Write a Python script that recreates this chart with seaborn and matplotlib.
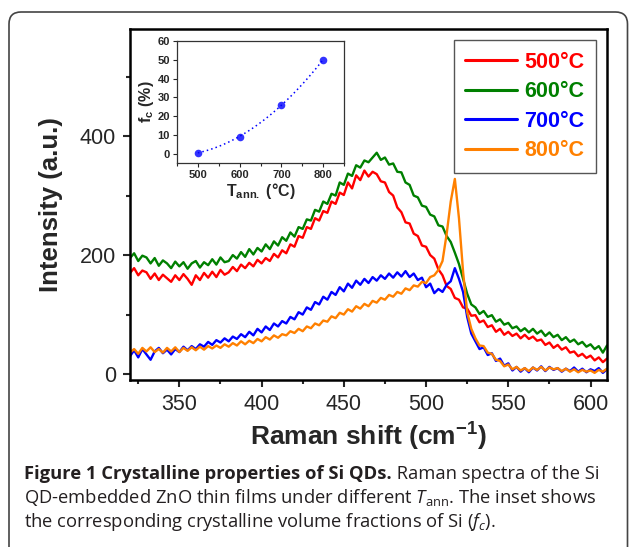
import numpy as np
import pandas as pd
import seaborn as sns
import matplotlib
matplotlib.use('Agg')
import matplotlib.pyplot as plt
from matplotlib.ticker import MultipleLocator
from matplotlib.patches import FancyBboxPatch
from matplotlib.transforms import IdentityTransform
from matplotlib.offsetbox import TextArea, HPacker, AnchoredOffsetbox

# Raman shift grid (cm-1), one reading every 2.5
shift = np.arange(320, 610.1, 2.5)

i_500 = [170, 178, 166, 174, 171, 160, 169, 158, 167, 161, 155, 166,
         158, 168, 160, 150, 166, 158, 170, 162, 172, 163, 175, 167,
         171, 180, 173, 184, 178, 187, 181, 192, 186, 195, 190, 202,
         196, 208, 203, 218, 214, 232, 229, 247, 244, 262, 258, 274,
         271, 290, 286, 305, 301, 322, 312, 334, 326, 342, 332, 340,
         336, 324, 322, 306, 300, 280, 272, 255, 253, 236, 232, 216,
         214, 200, 194, 176, 166, 148, 143, 128, 125, 112, 110, 98,
         99, 87, 90, 79, 82, 71, 76, 66, 71, 64, 68, 60,
         66, 59, 63, 56, 58, 49, 53, 44, 49, 41, 45, 36,
         38, 30, 34, 27, 31, 23, 28, 20, 26]

i_600 = [195, 203, 190, 199, 196, 186, 195, 182, 191, 186, 178, 189,
         181, 188, 177, 186, 190, 179, 188, 183, 193, 184, 196, 188,
         190, 200, 194, 205, 197, 210, 201, 212, 206, 218, 210, 223,
         216, 230, 224, 238, 231, 247, 244, 260, 258, 276, 273, 290,
         286, 303, 300, 322, 318, 337, 333, 351, 347, 359, 356, 364,
         372, 360, 364, 352, 354, 340, 339, 322, 318, 300, 297, 283,
         281, 268, 265, 250, 248, 232, 222, 204, 185, 160, 135, 117,
         112, 101, 106, 96, 99, 88, 92, 83, 86, 77, 80, 72,
         77, 70, 76, 68, 73, 64, 70, 62, 66, 57, 62, 54,
         58, 50, 54, 46, 50, 42, 47, 36, 48]

i_700 = [30, 40, 28, 42, 33, 24, 38, 44, 35, 41, 33, 42,
         37, 46, 40, 47, 42, 50, 46, 54, 49, 57, 53, 60,
         55, 63, 59, 67, 62, 71, 65, 76, 70, 80, 74, 85,
         80, 89, 85, 96, 92, 104, 100, 112, 108, 121, 117, 130,
         125, 138, 133, 146, 139, 152, 145, 157, 150, 160, 153, 163,
         157, 166, 160, 169, 162, 171, 164, 173, 163, 169, 158, 162,
         146, 152, 136, 143, 138, 150, 156, 178, 160, 138, 96, 68,
         55, 42, 45, 32, 35, 22, 26, 14, 18, 6, 12, 4,
         10, 3, 11, 6, 13, 5, 12, 7, 10, 4, 9, 5,
         11, 4, 9, 3, 8, 5, 10, 2, 8]

i_800 = [36, 42, 34, 44, 38, 45, 37, 42, 36, 44, 38, 45,
         37, 44, 39, 45, 40, 46, 41, 47, 43, 48, 44, 50,
         46, 52, 48, 55, 50, 56, 52, 59, 55, 62, 58, 65,
         61, 67, 65, 72, 69, 76, 72, 80, 77, 85, 82, 90,
         88, 97, 94, 103, 100, 109, 105, 114, 110, 118, 114, 123,
         120, 128, 125, 133, 130, 138, 135, 144, 141, 149, 147, 155,
         153, 163, 166, 175, 190, 235, 290, 328, 262, 172, 104, 76,
         60, 48, 47, 36, 34, 24, 22, 13, 16, 8, 12, 6,
         10, 5, 11, 7, 12, 6, 11, 8, 10, 5, 9, 4,
         8, 3, 7, 4, 6, 2, 7, 4, 9]

temps = ['500°C', '600°C', '700°C', '800°C']
colors = ['#ff0000', '#008000', '#0000ff', '#ff8000']

# inset: crystalline volume fraction
t_ann = [500, 600, 700, 800]
f_c = [0.5, 9, 26, 50]

sns.set_style('ticks')
plt.rcParams['font.family'] = ['Liberation Sans', 'DejaVu Sans']
plt.rcParams['mathtext.fontset'] = 'custom'
plt.rcParams['mathtext.bf'] = 'Liberation Sans:bold'
plt.rcParams['mathtext.rm'] = 'Open Sans'
plt.rcParams['mathtext.it'] = 'Open Sans:italic'

frames = []
for name, vals in zip(temps, [i_500, i_600, i_700, i_800]):
  frames.append(pd.DataFrame({'shift': shift, 'intensity': vals, 'T': name}))
data = pd.concat(frames, ignore_index=True)

fig = plt.figure(figsize=(6.29, 5.47), dpi=100)
ax = fig.add_axes([0.2067, 0.3053, 0.7583, 0.6417])

sns.lineplot(data=data, x='shift', y='intensity', hue='T',
             palette=dict(zip(temps, colors)), estimator=None, sort=False,
             lw=1.7, ax=ax)

ax.set_xlim(320, 610)
ax.set_ylim(-10, 580)
ax.set_xticks(range(350, 601, 50))
ax.xaxis.set_minor_locator(MultipleLocator(25))
ax.set_yticks([0, 200, 400])
ax.yaxis.set_minor_locator(MultipleLocator(100))
ax.tick_params(which='major', direction='out', length=5, width=1.5,
               labelsize=15.5, pad=5)
ax.tick_params(which='minor', direction='out', length=3, width=1.5)
for sp in ax.spines.values():
  sp.set_linewidth(1.8)
  sp.set_color('black')

ax.set_xlabel(r'Raman shift (cm$^{\mathbf{-1}}$)', fontsize=19,
              fontweight='bold', labelpad=4)
ax.set_ylabel('Intensity (a.u.)', fontsize=18.5, fontweight='bold', labelpad=12)

# legend with coloured text
handles, labels = ax.get_legend_handles_labels()
for h in handles:
  h.set_linewidth(2.2)
leg = ax.legend(handles, labels, loc='upper right',
                prop={'weight': 'bold', 'size': 15.5},
                handlelength=2.4, handletextpad=0.33, labelspacing=0.4,
                borderpad=0.55, borderaxespad=0.5, fancybox=False,
                framealpha=1, edgecolor='#555555')
leg.get_frame().set_linewidth(1.0)
for txt, c in zip(leg.get_texts(), colors):
  txt.set_color(c)

# inset
ins = fig.add_axes([0.2814, 0.702, 0.2655, 0.2230])
sns.regplot(x=t_ann, y=f_c, order=2, ci=None, ax=ins, color='#0000ff',
            scatter_kws=dict(s=30, zorder=3, linewidths=0),
            line_kws=dict(ls=(0, (1, 2)), lw=1.1))
ins.set_xlim(450, 850)
ins.set_ylim(-5, 60)
ins.set_xticks([500, 600, 700, 800])
ins.xaxis.set_minor_locator(MultipleLocator(50))
ins.set_yticks(range(0, 61, 10))
ins.tick_params(which='major', direction='out', length=3, width=0.8,
                labelsize=8, pad=2)
ins.tick_params(which='minor', direction='out', length=2, width=0.8)
for lab in ins.get_xticklabels() + ins.get_yticklabels():
  lab.set_fontweight('bold')
for sp in ins.spines.values():
  sp.set_linewidth(0.9)
  sp.set_color('#333333')
ins.set_xlabel(r'$\mathbf{T_{ann.}}$ (°C)', fontsize=11.5, fontweight='bold',
               labelpad=1)
ins.set_ylabel(r'$\mathbf{f_c}$ (%)', fontsize=11.5, fontweight='bold',
               labelpad=1)

# rounded frame of the journal figure
frame = FancyBboxPatch((9, -40), 618.5, 547 - 12 + 40,
                       boxstyle='round,pad=0,rounding_size=12',
                       transform=IdentityTransform(), fill=False,
                       ec='#444444', lw=1.2)
fig.add_artist(frame)

# caption
cap = dict(family='Open Sans', size=13.2, color='#231f20')

def line_at(child, y):
  box = AnchoredOffsetbox(loc='center left', child=child, pad=0, borderpad=0,
                          frameon=False, bbox_to_anchor=(24, y),
                          bbox_transform=IdentityTransform())
  fig.add_artist(box)

line1 = HPacker(children=[
  TextArea('Figure 1 Crystalline properties of Si QDs.',
           textprops=dict(weight='bold', **cap)),
  TextArea(' Raman spectra of the Si', textprops=cap)],
  pad=0, sep=0, align='baseline')
line_at(line1, 547 - 474)
line_at(TextArea(r'QD-embedded ZnO thin films under different '
                 r'$\mathit{T}_{\mathrm{ann}}$. The inset shows',
                 textprops=cap), 547 - 498)
line_at(TextArea(r'the corresponding crystalline volume fractions of Si '
                 r'($\mathit{f}_{\mathit{c}}$).', textprops=cap), 547 - 522)

fig.savefig('out.png', dpi=100)
